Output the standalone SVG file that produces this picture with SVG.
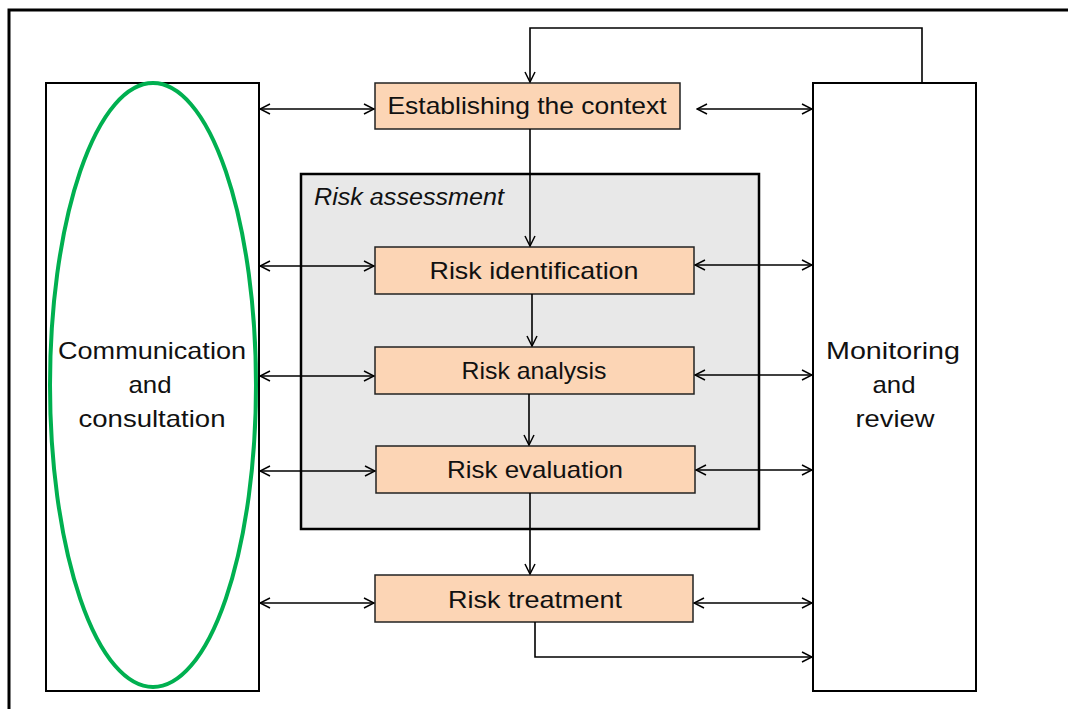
<svg xmlns="http://www.w3.org/2000/svg" width="1068" height="709" viewBox="0 0 1068 709">
<defs>
<marker id="ah" viewBox="0 0 12 12" refX="11" refY="6" markerWidth="12" markerHeight="12" markerUnits="userSpaceOnUse" orient="auto-start-reverse">
<path d="M1,1 L11,6 L1,11" fill="none" stroke="#000" stroke-width="1.5"/>
</marker>
</defs>
<style>
.box{fill:#fff;stroke:#000;stroke-width:2}
.step{fill:#FCD5B5;stroke:#222;stroke-width:1.5}
.t{font-family:"Liberation Sans",Arial,sans-serif;font-size:24px;fill:#111;text-anchor:middle}
.c line,.c polyline{stroke:#000;stroke-width:1.6;fill:none}
</style>
<rect x="9" y="10" width="1080" height="720" fill="#fff" stroke="#000" stroke-width="3"/>
<g id="comm">
<rect class="box" x="46" y="83" width="213" height="608"/>
<ellipse cx="153" cy="385" rx="103" ry="302" fill="none" stroke="#00B050" stroke-width="4"/>
<text class="t" x="152" y="359" textLength="188" lengthAdjust="spacingAndGlyphs">Communication</text>
<text class="t" x="150" y="393" textLength="43" lengthAdjust="spacingAndGlyphs">and</text>
<text class="t" x="152" y="427" textLength="147" lengthAdjust="spacingAndGlyphs">consultation</text>
</g>
<g id="monitor">
<rect class="box" x="813" y="83" width="163" height="608"/>
<text class="t" x="893" y="359" textLength="134" lengthAdjust="spacingAndGlyphs">Monitoring</text>
<text class="t" x="894" y="393" textLength="43" lengthAdjust="spacingAndGlyphs">and</text>
<text class="t" x="895" y="427" textLength="79" lengthAdjust="spacingAndGlyphs">review</text>
</g>
<g id="assessment">
<rect x="301" y="174" width="458" height="355" fill="#E8E8E8" stroke="#000" stroke-width="2.5"/>
<text x="314" y="205" font-family="'Liberation Sans',Arial,sans-serif" font-size="23" font-style="italic" fill="#111" textLength="190" lengthAdjust="spacingAndGlyphs">Risk assessment</text>
</g>
<g id="context">
<rect class="step" x="375" y="83" width="305" height="46"/>
<text class="t" x="527" y="114" textLength="279" lengthAdjust="spacingAndGlyphs">Establishing the context</text>
</g>
<g id="identification">
<rect class="step" x="375" y="247" width="319" height="47"/>
<text class="t" x="534" y="279" textLength="209" lengthAdjust="spacingAndGlyphs">Risk identification</text>
</g>
<g id="analysis">
<rect class="step" x="375" y="347" width="319" height="47"/>
<text class="t" x="534" y="379" textLength="145" lengthAdjust="spacingAndGlyphs">Risk analysis</text>
</g>
<g id="evaluation">
<rect class="step" x="376" y="446" width="319" height="47"/>
<text class="t" x="535" y="478" textLength="176" lengthAdjust="spacingAndGlyphs">Risk evaluation</text>
</g>
<g id="treatment">
<rect class="step" x="375" y="575" width="318" height="47"/>
<text class="t" x="535" y="608" textLength="174" lengthAdjust="spacingAndGlyphs">Risk treatment</text>
</g>
<g id="connectors" class="c">
<polyline points="922,83 922,28 530,28 530,82" marker-end="url(#ah)"/>
<line x1="530" y1="129" x2="530" y2="246" marker-end="url(#ah)"/>
<line x1="532" y1="294" x2="532" y2="346" marker-end="url(#ah)"/>
<line x1="529" y1="394" x2="529" y2="445" marker-end="url(#ah)"/>
<line x1="530" y1="493" x2="530" y2="574" marker-end="url(#ah)"/>
<polyline points="535,622 535,657 812,657" marker-end="url(#ah)"/>
<line x1="260" y1="109" x2="374" y2="109" marker-start="url(#ah)" marker-end="url(#ah)"/>
<line x1="260" y1="266" x2="374" y2="266" marker-start="url(#ah)" marker-end="url(#ah)"/>
<line x1="260" y1="376" x2="374" y2="376" marker-start="url(#ah)" marker-end="url(#ah)"/>
<line x1="260" y1="471" x2="375" y2="471" marker-start="url(#ah)" marker-end="url(#ah)"/>
<line x1="260" y1="603" x2="374" y2="603" marker-start="url(#ah)" marker-end="url(#ah)"/>
<line x1="697" y1="109" x2="812" y2="109" marker-start="url(#ah)" marker-end="url(#ah)"/>
<line x1="695" y1="265" x2="812" y2="265" marker-start="url(#ah)" marker-end="url(#ah)"/>
<line x1="695" y1="375" x2="812" y2="375" marker-start="url(#ah)" marker-end="url(#ah)"/>
<line x1="696" y1="470" x2="812" y2="470" marker-start="url(#ah)" marker-end="url(#ah)"/>
<line x1="694" y1="603" x2="812" y2="603" marker-start="url(#ah)" marker-end="url(#ah)"/>
</g>
</svg>
